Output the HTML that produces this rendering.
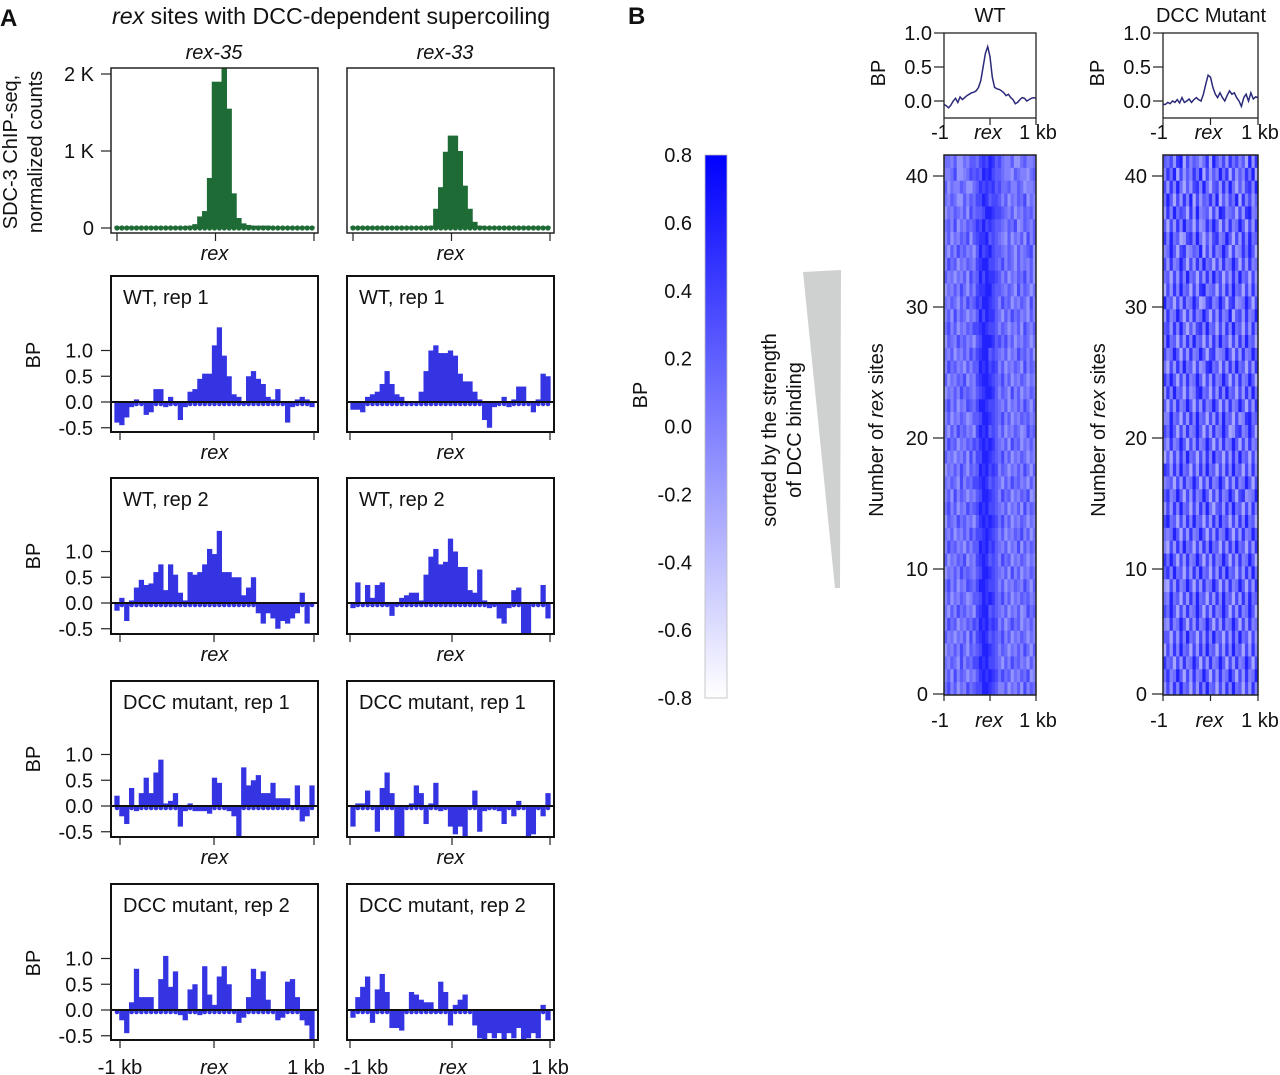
<!DOCTYPE html>
<html><head><meta charset="utf-8"><style>
body{margin:0;background:#fff}
svg{display:block;font-family:"Liberation Sans",Arial,sans-serif;fill:#111}
text{font-size:20px}
</style></head><body>
<svg id="fig" width="1280" height="1075" viewBox="0 0 1280 1075">
<defs><linearGradient id="cbg" x1="0" y1="1" x2="0" y2="0"><stop offset="0" stop-color="#ffffff"/><stop offset="1" stop-color="#0000ff"/></linearGradient></defs>
<text x="0" y="26" style="font-size:24px;font-weight:bold">A</text>
<text x="112" y="24" style="font-size:23.2px"><tspan font-style="italic">rex</tspan> sites with DCC-dependent supercoiling</text>
<text x="214" y="59" text-anchor="middle" font-style="italic">rex-35</text>
<text x="445" y="59" text-anchor="middle" font-style="italic">rex-33</text>
<text transform="translate(17,152) rotate(-90)" text-anchor="middle">SDC-3 ChIP-seq,</text>
<text transform="translate(42,152) rotate(-90)" text-anchor="middle">normalized counts</text>
<text x="94" y="81" text-anchor="end">2 K</text>
<text x="94" y="158" text-anchor="end">1 K</text>
<text x="94" y="235" text-anchor="end">0</text>
<text x="628" y="24" style="font-size:24px;font-weight:bold">B</text>
<text x="990" y="22" text-anchor="middle">WT</text>
<text x="1211" y="22" text-anchor="middle">DCC Mutant</text>
<text transform="translate(647,395) rotate(-90)" text-anchor="middle">BP</text>
<rect x="705" y="155" width="22" height="543" fill="url(#cbg)" stroke="#bbb" stroke-width="0.8"/>
<text transform="translate(776,430) rotate(-90)" text-anchor="middle">sorted by the strength</text>
<text transform="translate(801,430) rotate(-90)" text-anchor="middle">of DCC binding</text>
<polygon points="803,272 841,270 840,588 835,588" fill="#cfd1d0"/>
<text transform="translate(883,430) rotate(-90)" text-anchor="middle">Number of <tspan font-style="italic">rex</tspan> sites</text>
<text transform="translate(1105,430) rotate(-90)" text-anchor="middle">Number of <tspan font-style="italic">rex</tspan> sites</text>
</svg>
<script>
// ---------- data ----------
const chip35 = [0.02,0.02,0.02,0.02,0.02,0.02,0.02,0.02,0.02,0.02,0.02,0.02,0.02,0.02,0.02,0.03,0.05,0.15,0.22,0.65,1.9,1.9,2.1,1.55,0.45,0.13,0.06,0.04,0.03,0.03,0.03,0.03,0.02,0.02,0.02,0.02,0.02,0.02,0.02,0.02,0.02];
const chip33 = [0.02,0.02,0.02,0.02,0.02,0.02,0.02,0.02,0.02,0.02,0.02,0.02,0.02,0.02,0.02,0.02,0.03,0.25,0.53,0.99,1.2,1.2,1.0,0.55,0.25,0.08,0.03,0.02,0.02,0.02,0.02,0.02,0.02,0.02,0.02,0.02,0.02,0.02,0.02,0.02,0.02];
const wt1a = [-0.4,-0.45,-0.3,-0.1,0.05,0,-0.25,-0.2,0.25,0.25,-0.1,0.1,-0.05,-0.35,-0.1,0.2,0.25,0.45,0.55,0.55,1.1,1.45,0.9,0.5,0.15,0.1,-0.05,0.5,0.6,0.45,0.35,0.1,0.05,0.25,0,-0.4,-0.1,0.05,0.1,0.05,-0.1];
const wt1b = [-0.15,-0.15,-0.2,0.1,0.15,0.2,0.35,0.6,0.35,0.15,0.1,0,0,0,0.2,0.6,1.0,1.1,0.95,0.95,1.0,0.9,0.55,0.4,0.4,0.2,0.05,-0.35,-0.5,-0.1,0,0.1,-0.1,0.05,0.3,0.3,0,-0.2,0.05,0.55,0.5];
const wt2a = [-0.15,0.1,-0.35,0.05,0.3,0.45,0.35,0.38,0.6,0.75,0.25,0.75,0.55,0.2,0.05,0.6,0.55,0.6,0.75,1.05,0.95,1.4,0.6,0.6,0.5,0.5,0.15,0.3,0.5,-0.2,-0.4,-0.2,-0.3,-0.5,-0.35,-0.4,-0.3,-0.2,0.2,-0.4,0];
const wt2b = [-0.1,0.4,0,0.35,0.1,0.35,0.4,-0.05,-0.25,-0.05,0.1,0.15,0.2,0.2,0.05,0.55,0.9,1.05,0.75,0.8,1.25,1.0,0.7,0.7,0.25,0.2,0.65,0.05,-0.1,-0.05,-0.3,-0.4,-0.1,0.25,0.3,-0.6,-0.6,0,0,0.35,-0.3];
const mu1a = [0.2,-0.2,-0.35,0.35,-0.1,0.25,0.55,0.25,0.65,0.9,0.05,0.1,0.25,-0.4,-0.1,0.05,-0.1,-0.1,-0.1,-0.15,0.55,0.45,0,-0.1,-0.2,-0.6,0.75,0.4,0.5,0.6,0.25,0.25,0.45,0.15,0.15,0.15,0,0.4,-0.3,-0.2,0.4];
const mu1b = [-0.4,0.05,0.05,0.3,0,-0.5,0.35,0.65,0.25,-0.6,-0.6,0,0.05,0.4,0.25,-0.35,0.05,0.45,-0.1,-0.05,-0.4,-0.55,-0.4,-0.6,-0.05,0.3,-0.5,-0.1,-0.05,0,-0.1,-0.35,-0.05,-0.2,0.1,0,-0.6,-0.55,0,-0.2,0.25];
const mu2a = [0,-0.2,-0.45,0.15,0.8,0.25,0.25,0.25,0,0.6,1.05,0.45,0.75,-0.1,-0.2,0.4,0.5,-0.1,0.85,0.3,0.1,0.65,0.85,0.5,0,-0.25,-0.15,0.25,0.8,0.6,0.75,0.2,0,-0.2,-0.15,0.55,0.6,0.25,-0.2,-0.3,-0.6];
const mu2b = [-0.15,0.25,0.45,0.65,-0.25,0.4,0.7,0.35,-0.35,-0.35,-0.4,0,0.35,0.3,0.2,0.15,0.15,-0.05,0.55,0.35,-0.3,0.1,0.2,0.3,0,-0.3,-0.55,-0.6,-0.45,-0.55,-0.45,-0.6,-0.45,-0.55,-0.35,-0.6,-0.55,-0.45,-0.55,0.1,-0.2];
const profWT = [-0.05,-0.07,-0.1,-0.06,0,0.04,-0.02,0.06,0.02,0.05,0.08,0.1,0.12,0.13,0.15,0.2,0.3,0.5,0.7,0.8,0.65,0.35,0.2,0.18,0.17,0.15,0.12,0.08,0.1,0.05,0.02,-0.04,-0.02,0.02,0.05,0.04,0,0.02,0.04,0.05,0.04];
const profMut = [-0.05,-0.05,-0.02,-0.04,0,-0.02,0.02,-0.03,0.05,-0.02,0,0.03,-0.02,0.02,0.05,0.02,0,0.1,0.25,0.38,0.35,0.2,0.1,0.05,0.12,0.05,0,0.08,0.15,0.1,0.12,0.05,0,-0.08,0.05,0.1,0,0.12,0.03,0.06,0.05];
const bpTicks = [1.0,0.5,0.0,-0.5];
const bpTickLabels = ["1.0","0.5","0.0","-0.5"];
const cbTicks = [0.8,0.6,0.4,0.2,0.0,-0.2,-0.4,-0.6,-0.8];
const cbTickLabels = ["0.8","0.6","0.4","0.2","0.0","-0.2","-0.4","-0.6","-0.8"];
const profTicks = [1.0,0.5,0.0];
const profTickLabels = ["1.0","0.5","0.0"];
const hmTicks = [0,10,20,30,40];
// heatmap rows top -> bottom, digit 0..9 = BP level
const hmWT = [
"55463354665787986754463356445","44573345767698976654436544356","63544653356878786755644653445",
"54653364657798677646354657354","35465463756679987765463546564","56473546568797876654657346546",
"46354657367889676543635463746","53647564536978976654653645673","47563546547899776574653645463",
"64535463756979887646354657463","35464753647889976654653746535","54653647568799876475635465374",
"46374653546979886536475645364","57463546577898776465354637546","36547564536799986757463546535",
"54635464757899676546354756463","47564536466989787463546537465","63546573547899876574635465354",
"35464756546789986465374635465","57463547657998776546354647536","46354653466799876574635465645",
"53647564537989676463546534756","47563546576898986546375635464","64535463747799876574635465354",
"35464753656989787465354647536","54653746577898676536475645364","46374653546799876475635465734",
"57463547567989776546354637465","36547564536898987574635465354","54635464757789876463546574635",
"47564536466989786546354736465","63546573547898676475635465354","35464756546799876546374635465",
"57463547657998776463546547536","46354653466798986574635465645","53647564537899676546354634756",
"47563546576989787463575635464","64535463747898676574635465354","35464753656799876465354647536",
"54653746577989776536475645364","46374653546898987575635465734","57463547567799876446354637465"];
const hmMut = [
"65738927465358296473857462938","48592736485927364958273648592","73849526378495267384952637849",
"59627384927365849263759284736","38495762839456273984562738945","62738495627348596273845962738",
"84956237849526378459627384956","45962783465927384596273485962","73845962738495627384596273845",
"56273849562738495726384956273","27384956273894562738495627384","95627384596237845962783459627",
"38459627384596273845926738459","67384952637849562738495627384","49562738495627384956273849562",
"74596273845962783459627384596","52738495627348956273849562738","85962738459627384596273845962",
"38495627348956273849562738495","62738459627384596273845962738","44956273849562738495627348956",
"75962738459627384596237845962","53845962738459627384596273845","26273849562738495627384956273",
"87384956273849562738495627384","45627384596273845962738459627","68459627384596273845962783459",
"37384956273849526738495627384","79562738495627384956273849562","54596273845962738459627384596",
"42738495627384956273849562738","85962738459627384596273845962","68495627384956273849562738495",
"32738459627384596273845962738","54956273849562738495627384956","75962738459627384596273845962",
"43845962738459627384596273845","66273849562738495627384956273","27384956273849562738495627384",
"85627384596273845962738459627","58459627384596273845962738459","37384956273849562738495627384"];

// ---------- helpers ----------
const NS = 'http://www.w3.org/2000/svg';
const svg = document.getElementById('fig');
function mk(tag, attrs, txt){const e=document.createElementNS(NS,tag);for(const k in attrs)e.setAttribute(k,attrs[k]);if(txt!==undefined)e.textContent=txt;svg.appendChild(e);return e;}
const BLUE = '#3434e2', GREEN = '#1f6b36';

// ---------- ChIP panels ----------
const chipFrames = [{x0:111,x1:318,b0:117,b1:312,data:chip35,name:'rex-35'},{x0:347,x1:554,b0:353,b1:548,data:chip33,name:'rex-33'}];
function chipY(v){return 228 - v*77;}
chipFrames.forEach(f=>{
  const n=f.data.length, step=(f.b1-f.b0)/(n-1);
  f.data.forEach((v,i)=>{
    const x=f.b0+i*step;
    const top=Math.max(chipY(v),68);
    const b=mk('rect',{x:x-step/2-0.3,y:top,width:step+0.6,height:chipY(0)-top,fill:GREEN});
    
    
    const d=mk('circle',{cx:x,cy:chipY(0),r:2.6,fill:GREEN});
    
    
  });
  const fr=mk('rect',{x:f.x0,y:68,width:f.x1-f.x0,height:165,fill:'none',stroke:'#222','stroke-width':1.5});
  
  
  [f.x0+6,(f.x0+f.x1)/2+1,f.x1-4].forEach(tx=>{
    const t=mk('line',{x1:tx,x2:tx,y1:233,y2:241,stroke:'#222','stroke-width':1.2});
    
    
  });
  const rl=mk('text',{x:(f.x0+f.x1)/2,y:260,'text-anchor':'middle','font-style':'italic'},'rex');
  
  
});
[2,1,0].forEach(v=>{
  const t=mk('line',{x1:101,x2:111,y1:chipY(v),y2:chipY(v),stroke:'#222','stroke-width':1.2});
  
  
});

// ---------- BP bar panels ----------
const rows = [{top:276,zero:402,label:'WT, rep 1',a:wt1a,b:wt1b},{top:478,zero:603,label:'WT, rep 2',a:wt2a,b:wt2b},
              {top:681,zero:806,label:'DCC mutant, rep 1',a:mu1a,b:mu1b},{top:884,zero:1010,label:'DCC mutant, rep 2',a:mu2a,b:mu2b}];
const cols = [{x0:111,x1:318,b0:117,b1:312,tk:[120,214,314],lx:[120,214,306]},{x0:347,x1:554,b0:353,b1:548,tk:[350,452,550],lx:[366,453,550]}];
const UNIT=51.5;
rows.forEach((r,ri)=>{
  const bot=r.top+156;
  const yS=v=>r.zero - v*UNIT;
  [r.a,r.b].forEach((data,ci)=>{
    const c=cols[ci], n=data.length, step=(c.b1-c.b0)/(n-1);
    data.forEach((v,i)=>{
      const x=c.b0+i*step;
      const y=Math.min(Math.max(yS(v),r.top+3),bot-1);
      const y0=Math.min(y,r.zero), h=Math.abs(y-r.zero);
      const b=mk('rect',{x:x-step/2-0.2,y:y0,width:step+0.4,height:h,fill:BLUE});
      
      
      const d=mk('circle',{cx:x,cy:r.zero+2,r:2.3,fill:BLUE});
      
      
    });
    const zl=mk('line',{x1:c.x0,x2:c.x1,y1:r.zero,y2:r.zero,stroke:'#111','stroke-width':2});
    
    
    const fr=mk('rect',{x:c.x0,y:r.top,width:c.x1-c.x0,height:156,fill:'none',stroke:'#111','stroke-width':2});
    
    
    const lb=mk('text',{x:c.x0+12,y:r.top+28},r.label);
    
    
    c.tk.forEach(tx=>{
      const t=mk('line',{x1:tx,x2:tx,y1:bot,y2:bot+8,stroke:'#222','stroke-width':1.2});
      
      
    });
    if(ri<3){
      const rl=mk('text',{x:(c.x0+c.x1)/2,y:bot+27,'text-anchor':'middle','font-style':'italic'},'rex');
      
      
    } else {
      ['-1 kb','rex','1 kb'].forEach((s,k)=>{
        const tl=mk('text',{x:c.lx[k],y:bot+34,'text-anchor':'middle','font-style':(k===1?'italic':'normal')},s);
        
        
      });
    }
  });
  bpTicks.forEach((v,k)=>{
    const t=mk('line',{x1:101,x2:111,y1:yS(v),y2:yS(v),stroke:'#222','stroke-width':1.2});
    
    
    const tl=mk('text',{x:93,y:yS(v)+7,'text-anchor':'end'},bpTickLabels[k]);
    
    
  });
  const yt=mk('text',{transform:'translate(40,'+(r.zero-47)+') rotate(-90)','text-anchor':'middle'},'BP');
  
  
});

// ---------- colorbar ticks ----------
const cbY=v=>155+(0.8-v)/1.6*543;
cbTicks.forEach((v,k)=>{
  const tl=mk('text',{x:692,y:cbY(v)+7,'text-anchor':'end'},cbTickLabels[k]);
  
  
});

// ---------- profiles ----------
const profs=[{x0:944,x1:1036,data:profWT,name:'wt'},{x0:1163,x1:1258,data:profMut,name:'mutant'}];
const pY=v=>101 - v*68;
profs.forEach(p=>{
  const n=p.data.length, step=(p.x1-p.x0)/(n-1);
  const pts=p.data.map((v,i)=>(p.x0+i*step).toFixed(1)+','+pY(v).toFixed(1)).join(' ');
  const pl=mk('polyline',{points:pts,fill:'none',stroke:'#2a2a7a','stroke-width':1.5});
  
  
  const fr=mk('rect',{x:p.x0,y:33,width:p.x1-p.x0,height:85,fill:'none',stroke:'#222','stroke-width':1.3});
  
  
  profTicks.forEach((v,k)=>{
    const t=mk('line',{x1:p.x0-10,x2:p.x0,y1:pY(v),y2:pY(v),stroke:'#222','stroke-width':1.2});
    
    
    const tl=mk('text',{x:p.x0-12,y:pY(v)+7,'text-anchor':'end'},profTickLabels[k]);
    
    
  });
  const bp=mk('text',{transform:'translate('+(p.x0-59)+',73) rotate(-90)','text-anchor':'middle'},'BP');
  
  
  [p.x0,(p.x0+p.x1)/2,p.x1].forEach((tx,k)=>{
    const t=mk('line',{x1:tx,x2:tx,y1:118,y2:125,stroke:'#222','stroke-width':1.2});
    
    
    const tl=mk('text',{x:tx+(k===0?-4:(k===2?2:-2)),y:139,'text-anchor':'middle','font-style':(k===1?'italic':'normal')},['-1','rex','1 kb'][k]);
    
    
  });
});

// ---------- heatmaps ----------
function colorFor(d){const v=-0.6+d*0.13;const t=Math.min(1,Math.max(0,(v+0.8)/1.6));const r=Math.round(235*(1-t));return 'rgb('+r+','+r+',255)';}
const hms=[{x0:944,x1:1036,rows:hmWT,name:'wt'},{x0:1163,x1:1258,rows:hmMut,name:'mutant'}];
const hTop=155,hBot=695;
const hY=k=>700-13.1*k;
hms.forEach(h=>{
  const nr=h.rows.length, rh=(hBot-hTop)/nr;
  h.rows.forEach((row,ri)=>{
    const cw=(h.x1-h.x0)/row.length;
    for(let j=0;j<row.length;j++){
      const c=mk('rect',{x:(h.x0+j*cw).toFixed(2),y:(hTop+ri*rh).toFixed(2),width:(cw+0.4).toFixed(2),height:(rh+0.4).toFixed(2),fill:colorFor(+row[j])});
      
      
    }
  });
  const fr=mk('rect',{x:h.x0,y:hTop,width:h.x1-h.x0,height:hBot-hTop,fill:'none',stroke:'#222','stroke-width':1.5});
  
  
  hmTicks.forEach(k=>{
    const y=Math.min(hY(k),694);
    const t=mk('line',{x1:h.x0-11,x2:h.x0,y1:y,y2:y,stroke:'#222','stroke-width':1.2});
    
    
    const tl=mk('text',{x:h.x0-16,y:y+7,'text-anchor':'end'},String(k));
    
    
  });
  [h.x0,(h.x0+h.x1)/2,h.x1].forEach((tx,k)=>{
    const t=mk('line',{x1:tx,x2:tx,y1:hBot,y2:hBot+6,stroke:'#222','stroke-width':1.2});
    
    
    const tl=mk('text',{x:tx+(k===0?-4:(k===2?2:-1)),y:727,'text-anchor':'middle','font-style':(k===1?'italic':'normal')},['-1','rex','1 kb'][k]);
    
    
  });
});
</script>
</body></html>
